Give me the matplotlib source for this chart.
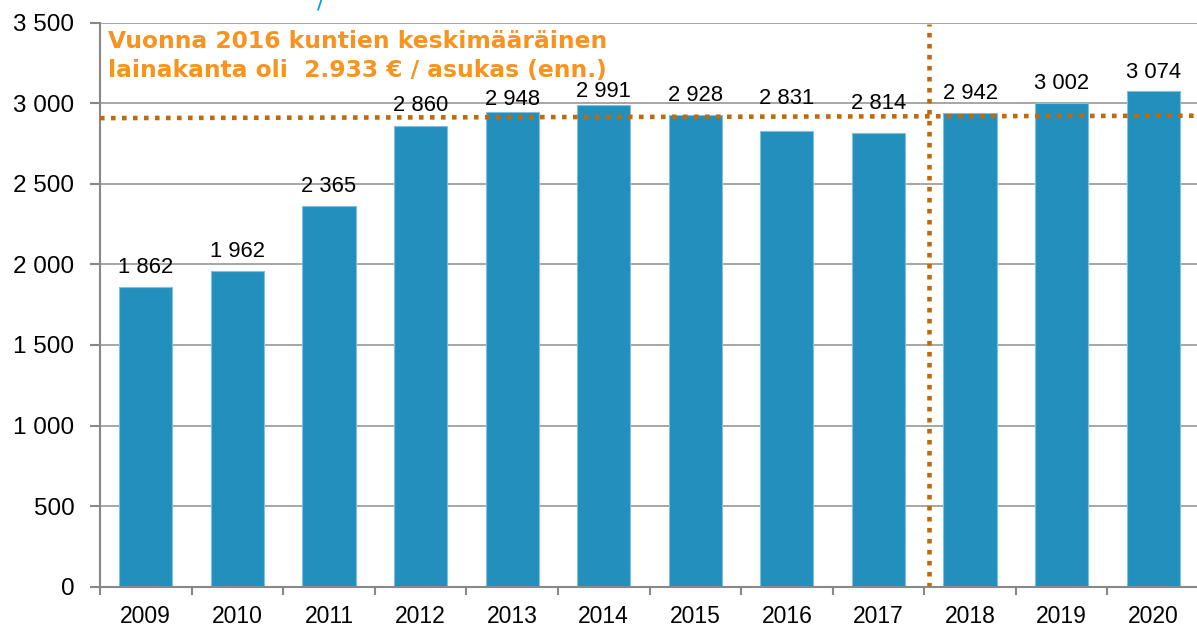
import matplotlib
matplotlib.use("Agg")
import matplotlib.pyplot as plt
import numpy as np

years = ["2009", "2010", "2011", "2012", "2013", "2014", "2015", "2016",
         "2017", "2018", "2019", "2020"]
values = [1862, 1962, 2365, 2860, 2948, 2991, 2928, 2831, 2814, 2942, 3002, 3074]
value_labels = ["1 862", "1 962", "2 365", "2 860", "2 948", "2 991", "2 928",
                "2 831", "2 814", "2 942", "3 002", "3 074"]
y_ticks = [0, 500, 1000, 1500, 2000, 2500, 3000, 3500]
y_tick_labels = ["0", "500", "1 000", "1 500", "2 000", "2 500", "3 000", "3 500"]
ref_line_values = [2908, 2923]   # dotted average line (left end, right end)
forecast_split = 8.55            # between 2017 and 2018
note_lines = ["Vuonna 2016 kuntien keskimääräinen",
              "lainakanta oli  2.933 € / asukas (enn.)"]

# vertical gap (points) between bar top and its value label, as placed in the original
label_gaps = [10, 10, 10, 10.8, 4.8, 5.5, 9.8, 19.2, 17.5, 9.9, 10.4, 9.6]

BAR = "#238FBD"
DOT = "#C06A0C"
ORANGE = "#F7931E"
GRID = "#A6A6A6"

W, H = 1197, 628
fig = plt.figure(figsize=(W / 100, H / 100), dpi=100)
ax = fig.add_axes([100 / W, 1 - 586.7 / H, 1099 / W, (586.7 - 22.7) / H])

x = np.arange(len(years))
ax.bar(x, values, width=0.58, color=BAR, edgecolor="#7FBFDF", linewidth=0.8, zorder=2)

for xi, v, lab, gap in zip(x, values, value_labels, label_gaps):
    ax.annotate(lab, (xi, v), xytext=(0, gap), textcoords="offset points",
                ha="center", va="baseline", fontsize=15.8,
                family=["Liberation Sans", "DejaVu Sans"], color="black", zorder=4)

ax.set_xlim(-0.5, len(years) - 0.5)
ax.set_ylim(0, 3500)
ax.set_yticks(y_ticks)
ax.set_yticklabels(y_tick_labels, family=["Liberation Sans", "DejaVu Sans"], fontsize=17.5)
ax.set_xticks(x)
ax.set_xticklabels(years, family=["Liberation Sans", "DejaVu Sans"], fontsize=16.5)
ax.set_xticks(np.arange(len(years) + 1) - 0.5, minor=True)
ax.tick_params(axis="x", which="major", length=0, pad=13)
ax.tick_params(axis="x", which="minor", length=6, width=1.5, color="#888888", direction="out")
ax.tick_params(axis="y", length=7, width=1.5, color="#888888", pad=11.5)

ax.grid(axis="y", color=GRID, linewidth=1.4, zorder=0)
ax.set_axisbelow(True)
for s in ["top", "right"]:
    ax.spines[s].set_visible(False)
for s in ["left", "bottom"]:
    ax.spines[s].set_color("#888888")
    ax.spines[s].set_linewidth(1.5)
ax.spines["bottom"].set_zorder(3)

# dotted reference lines
ax.plot([-0.5, len(years) - 0.5], ref_line_values, color=DOT, linewidth=3.3,
        linestyle=(0, (1.0, 1.4)), dash_capstyle="butt",
        zorder=3, clip_on=False)
ax.plot([forecast_split, forecast_split], [0, 3490], color=DOT, linewidth=3.3,
        linestyle=(0, (1.0, 1.4)), dash_capstyle="butt", zorder=3)

for i, line in enumerate(note_lines):
    fig.text(108 / W, 1 - (48.5 + 29 * i) / H, line, fontsize=16.8, fontweight="bold",
             color=ORANGE, family=["DejaVu Sans"], ha="left", va="baseline")
# the clipped blue fragment at the top edge
fig.text(317 / W, 1 - 9 / H, "/", fontsize=16, color="#00A0E3",
         family=["DejaVu Sans"], ha="left", va="baseline")

fig.savefig("out.png", dpi=100)
